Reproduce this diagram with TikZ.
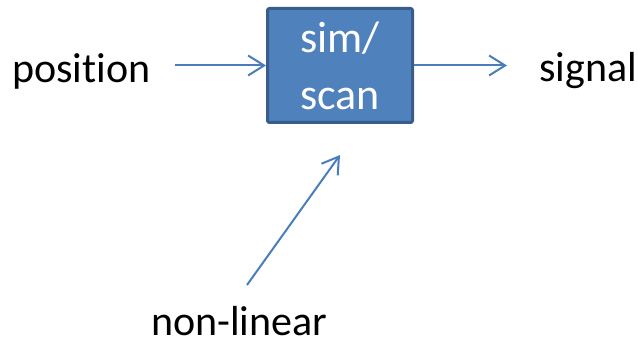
\documentclass[tikz,border=0pt]{standalone}
\usepackage{fontspec}
\setmainfont{Carlito}[Ligatures=NoCommon]
\usetikzlibrary{arrows.meta}
\definecolor{boxblue}{HTML}{4F81BD}
\definecolor{boxedge}{HTML}{385D8A}
\definecolor{linkblue}{HTML}{4A7EBB}
\tikzset{
    sim-box/.style = {draw=boxedge, fill=boxblue, line width=3pt, rectangle, rounded corners=2pt, minimum width=145pt, minimum height=114pt, text=white, align=center, font=\fontsize{44}{57}\selectfont},
    label-text/.style = {inner sep=0pt, anchor=base west, font=\fontsize{42}{50}\selectfont},
    flow/.style = {draw=linkblue, line width=2pt, -{Straight Barb[length=16pt,width=20pt]}},
}

\begin{document}
\begin{tikzpicture}[x=1pt, y=1pt]
\useasboundingbox (0,0) rectangle (638,343);
\node [sim-box] (sim) at (340,277.5) {sim/\\scan};
\node [label-text] (pos) at (12,260) {position};
\node [label-text] (sig) at (539,261) {signal};
\node [label-text] (nonlin) at (151,7) {non-linear};
\coordinate (nl-start) at (247,58);
\coordinate (nl-end) at (340,188);
\draw [flow, shorten <=24pt] (sim.west -| pos.east) -- (sim.west);
\draw [flow, shorten >=32pt] (sim.east) -- (sim.east -| sig.west);
\draw [flow] (nl-start) -- (nl-end);
\end{tikzpicture}
\end{document}
